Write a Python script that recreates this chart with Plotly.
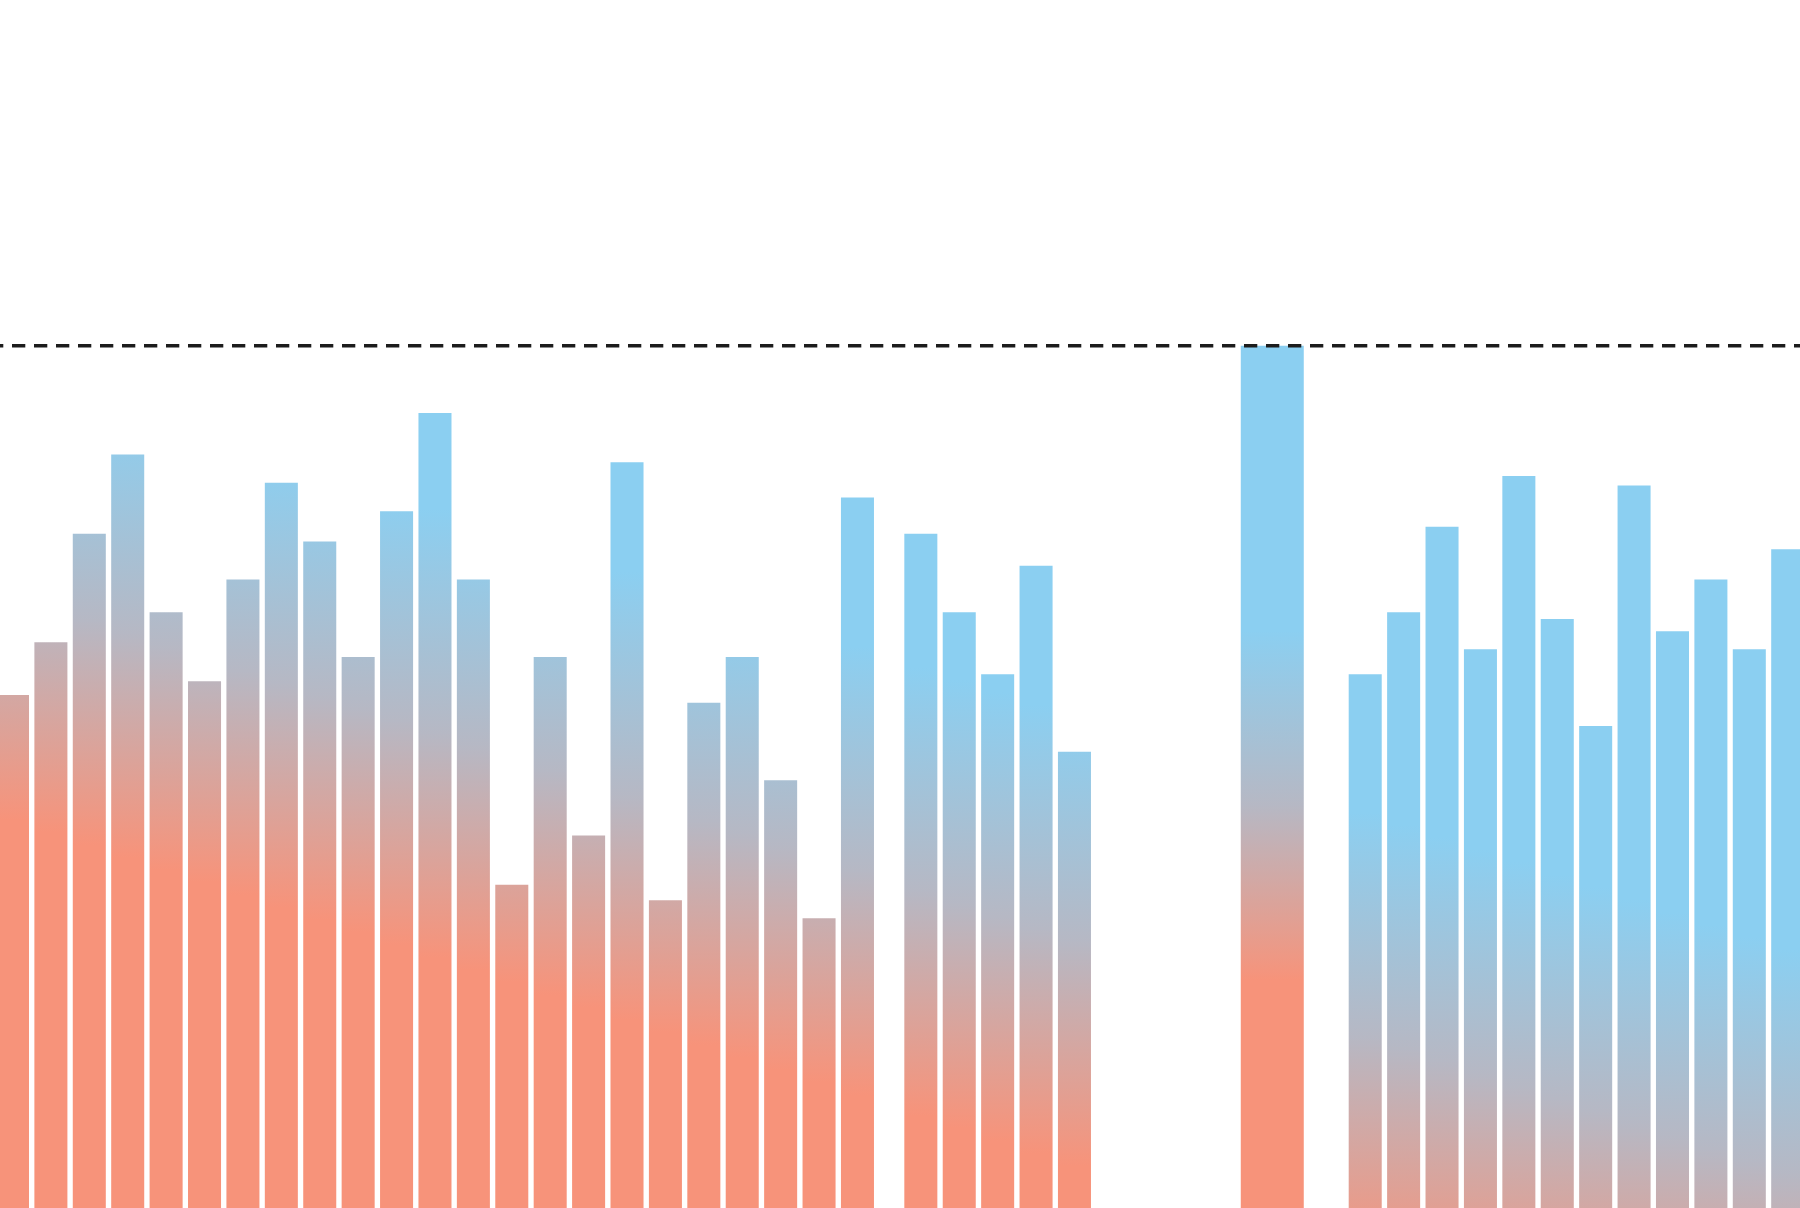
import plotly.graph_objects as go

# bar positions along the day axis and their values (dashed line = peak)
left_days = list(range(23))
left_vals = [59.5, 65.6, 78.2, 87.4, 69.1, 61.1, 72.9, 84.1, 77.3, 63.9, 80.8, 92.2,
             72.9, 37.5, 63.9, 43.2, 86.5, 35.7, 58.6, 63.9, 49.6, 33.6, 82.4]

mid_days = [23.65, 24.65, 25.65, 26.65, 27.65]
mid_vals = [78.2, 69.1, 61.9, 74.5, 52.9]

peak_day = 32.8
peak_val = 100.0

right_days = [35.22 + i for i in range(12)]
right_vals = [61.9, 69.1, 79.0, 64.8, 84.9, 68.3, 55.9, 83.8, 66.9, 72.9, 64.8, 76.4]

SALMON = "#F7937A"
GREY = "#B6B8C4"
BLUE = "#8BCFF1"
scale = [[0.0, SALMON], [0.5, GREY], [1.0, BLUE]]

BAR_W = 0.86
PEAK_W = 1.64


def bar_trace(x, v, w, g0, g1):
    # one rectangle, filled with a vertical gradient from g0 (salmon) to g1 (blue)
    xs = [x - w / 2, x + w / 2, x + w / 2, x - w / 2, x - w / 2]
    ys = [0, 0, v, v, 0]
    return go.Scatter(
        x=xs, y=ys, mode="lines", fill="toself",
        line=dict(width=0, color="rgba(0,0,0,0)"),
        fillgradient=dict(type="vertical", colorscale=scale, start=g0, stop=g1),
        hoverinfo="skip", showlegend=False,
    )


fig = go.Figure()

# the gradient drifts downwards as we move right (diagonal look)
for x, v in zip(left_days + mid_days + right_days, left_vals + mid_vals + right_vals):
    mid = 71.0 - 1.45 * x
    fig.add_trace(bar_trace(x, v, BAR_W, mid - 26, mid + 26))

fig.add_trace(bar_trace(peak_day, peak_val, PEAK_W, 26.4, 67.0))

all_vals = left_vals + mid_vals + [peak_val] + right_vals
fig.add_shape(
    type="line", xref="paper", yref="y",
    x0=-10 / 1800, x1=1.0, y0=max(all_vals), y1=max(all_vals),
    line=dict(color="#1c1c1c", width=3.5, dash="13.3px,8.7px"),
)

fig.update_layout(
    width=1800, height=1208,
    margin=dict(l=0, r=0, t=0, b=0),
    paper_bgcolor="white", plot_bgcolor="white",
    showlegend=False,
    xaxis=dict(visible=False, range=[-0.325, 46.54], fixedrange=True),
    yaxis=dict(visible=False, range=[0, 140.1], fixedrange=True),
)

fig.write_html("out.html", config={"displayModeBar": False},
               post_script="document.body.style.margin='0';")
